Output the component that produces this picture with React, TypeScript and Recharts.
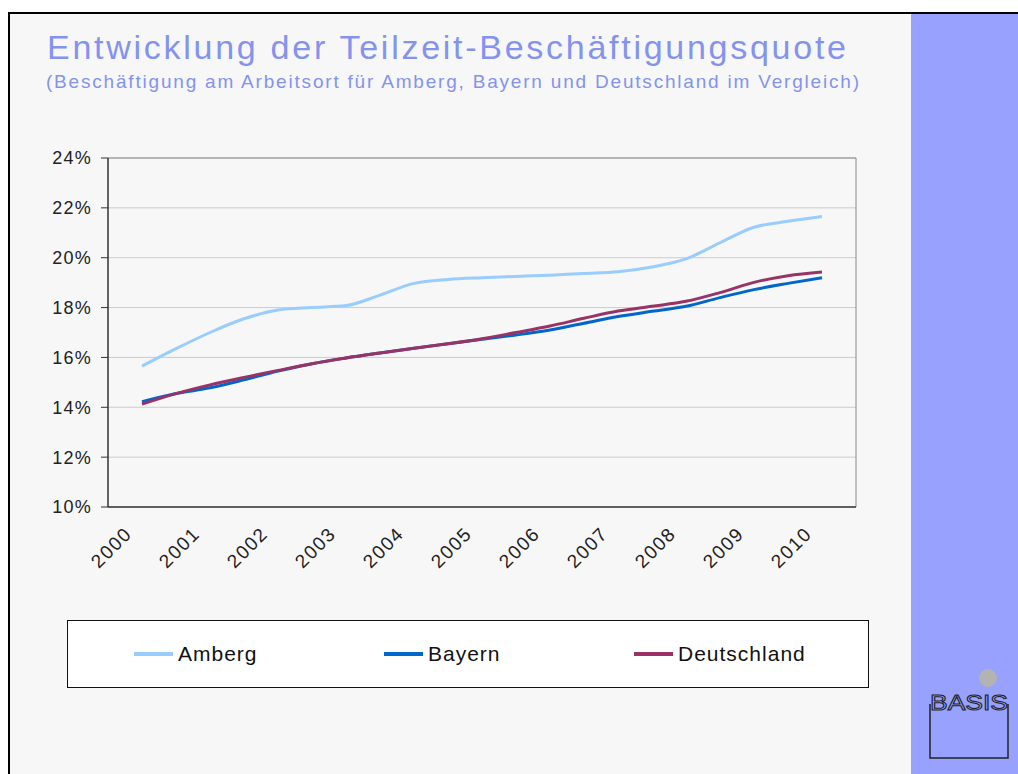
import { LineChart, Line, XAxis, YAxis, CartesianGrid, ReferenceLine, Legend } from "recharts";

const FONT = '"Liberation Sans", Arial, Helvetica, sans-serif';

// Kalenderjahre auf der x-Achse
const years = [2000, 2001, 2002, 2003, 2004, 2005, 2006, 2007, 2008, 2009, 2010];
// Halbjahres-Stützstellen (Jahre seit 2000)
const halfYears = [0, 0.5, 1, 1.5, 2, 2.5, 3, 3.5, 4, 4.5, 5, 5.5, 6, 6.5, 7, 7.5, 8, 8.5, 9, 9.5, 10];
const amberg = [15.65, 16.35, 17.0, 17.55, 17.9, 18.0, 18.08, 18.5, 18.97, 19.13, 19.2, 19.25, 19.3, 19.37, 19.44, 19.63, 19.95, 20.6, 21.22, 21.46, 21.65];
const bayern = [14.22, 14.55, 14.78, 15.1, 15.45, 15.75, 15.98, 16.18, 16.37, 16.55, 16.73, 16.9, 17.1, 17.37, 17.64, 17.85, 18.05, 18.4, 18.72, 18.97, 19.2];
const deutschland = [14.13, 14.55, 14.9, 15.2, 15.48, 15.75, 15.98, 16.18, 16.37, 16.55, 16.75, 17.0, 17.26, 17.57, 17.86, 18.05, 18.25, 18.6, 19.01, 19.28, 19.43];
const yTicks = [10, 12, 14, 16, 18, 20, 22, 24];

const rows = halfYears.map((t, i) => ({
  t,
  Amberg: amberg[i],
  Bayern: bayern[i],
  Deutschland: deutschland[i],
}));

// Kategoriegrenzen liegen zwischen den Jahren
const boundaries = [...years.map((y) => y - 2000 - 0.5), years.length - 0.5];
const yearCenters = years.map((y) => y - 2000);

const YearTick = ({ x, y, payload }: any) => (
  <g transform={`translate(${x},${y})`}>
    <text
      x={-9}
      y={20}
      transform="rotate(-45 -9 20)"
      textAnchor="end"
      fill="#222"
      fontSize={19}
      letterSpacing={1.5}
      fontFamily={FONT}
    >
      {2000 + payload.value}
    </text>
  </g>
);

const LegendBox = ({ payload }: any) => (
  <div
    style={{
      boxSizing: "border-box",
      width: 802,
      height: 68,
      border: "1px solid #111",
      background: "#fff",
      position: "relative",
      fontFamily: FONT,
    }}
  >
    {(payload || []).map((entry: any, i: number) => (
      <div
        key={entry.value}
        style={{ position: "absolute", left: 66 + i * 250, top: 0, height: 66, display: "flex", alignItems: "center" }}
      >
        <span style={{ display: "inline-block", width: 39, height: 3.5, background: entry.color, marginRight: 5 }} />
        <span style={{ fontSize: 21, color: "#111", letterSpacing: 1 }}>{entry.value}</span>
      </div>
    ))}
  </div>
);

export default function App() {
  return (
    <div style={{ position: "absolute", left: 0, top: 0, width: 1018, height: 774, background: "#fff", overflow: "hidden" }}>
      <div
        style={{
          position: "absolute",
          left: 8,
          top: 12,
          width: 1010,
          height: 762,
          boxSizing: "border-box",
          borderTop: "2px solid #000",
          borderLeft: "2px solid #000",
          background: "#f7f7f7",
        }}
      />
      <div style={{ position: "absolute", left: 911, top: 14, width: 107, height: 760, background: "#98a2fe" }} />

      <svg style={{ position: "absolute", left: 0, top: 0 }} width={1018} height={110}>
        <text x={47} y={59} fontSize={34} fill="#8393ee" fontFamily={FONT} textLength={799} lengthAdjust="spacing">
          Entwicklung der Teilzeit-Beschäftigungsquote
        </text>
        <text x={46} y={88} fontSize={19} fill="#8393ee" fontFamily={FONT} textLength={813} lengthAdjust="spacing">
          (Beschäftigung am Arbeitsort für Amberg, Bayern und Deutschland im Vergleich)
        </text>
      </svg>

      <div style={{ position: "absolute", left: 0, top: 0 }}>
        <LineChart width={1018} height={774} data={rows} margin={{ top: 158, right: 162, bottom: 199, left: 40 }}>
          <CartesianGrid xAxisId="frame" vertical={false} stroke="#cccccc" />
          <XAxis
            xAxisId="frame"
            dataKey="t"
            type="number"
            domain={[-0.5, 10.5]}
            ticks={boundaries}
            interval={0}
            tick={false}
            tickSize={6}
            height={8}
            axisLine={{ stroke: "#333", strokeWidth: 1.5 }}
            tickLine={{ stroke: "#333" }}
          />
          <XAxis
            xAxisId="years"
            dataKey="t"
            type="number"
            domain={[-0.5, 10.5]}
            ticks={yearCenters}
            interval={0}
            axisLine={false}
            tickLine={false}
            tickSize={0}
            tickMargin={0}
            height={60}
            tick={<YearTick />}
          />
          <YAxis
            domain={[10, 24]}
            ticks={yTicks}
            interval={0}
            width={68}
            tickSize={7}
            tickMargin={9}
            tickFormatter={(v) => `${v}%`}
            axisLine={{ stroke: "#333", strokeWidth: 1.5 }}
            tickLine={{ stroke: "#333" }}
            tick={{ fill: "#222", fontSize: 18, fontFamily: FONT, letterSpacing: 1.2 }}
          />
          <ReferenceLine xAxisId="frame" y={24} stroke="#888" />
          <ReferenceLine xAxisId="frame" x={10.5} stroke="#888" />
          <Legend
            layout="horizontal"
            verticalAlign="middle"
            align="center"
            wrapperStyle={{ left: 67, top: 620, width: 802, height: 68 }}
            content={<LegendBox />}
          />
          <Line xAxisId="frame" type="monotone" dataKey="Amberg" name="Amberg" stroke="#99ccff" strokeWidth={3} dot={false} activeDot={false} isAnimationActive={false} />
          <Line xAxisId="frame" type="monotone" dataKey="Bayern" name="Bayern" stroke="#0066cc" strokeWidth={3} dot={false} activeDot={false} isAnimationActive={false} />
          <Line xAxisId="frame" type="monotone" dataKey="Deutschland" name="Deutschland" stroke="#993366" strokeWidth={3} dot={false} activeDot={false} isAnimationActive={false} />
        </LineChart>
      </div>

      <svg style={{ position: "absolute", left: 911, top: 660 }} width={107} height={110}>
        <circle cx={77} cy={18} r={9} fill="#b3b3b3" />
        <path d="M19,44 V98 H97 V44" fill="none" stroke="#222" strokeWidth={1.5} />
        <text
          x={19}
          y={50}
          fontSize={22}
          textLength={78}
          lengthAdjust="spacingAndGlyphs"
          fill="none"
          stroke="#222"
          strokeWidth={1}
          fontFamily={FONT}
        >
          BASIS
        </text>
      </svg>
    </div>
  );
}
